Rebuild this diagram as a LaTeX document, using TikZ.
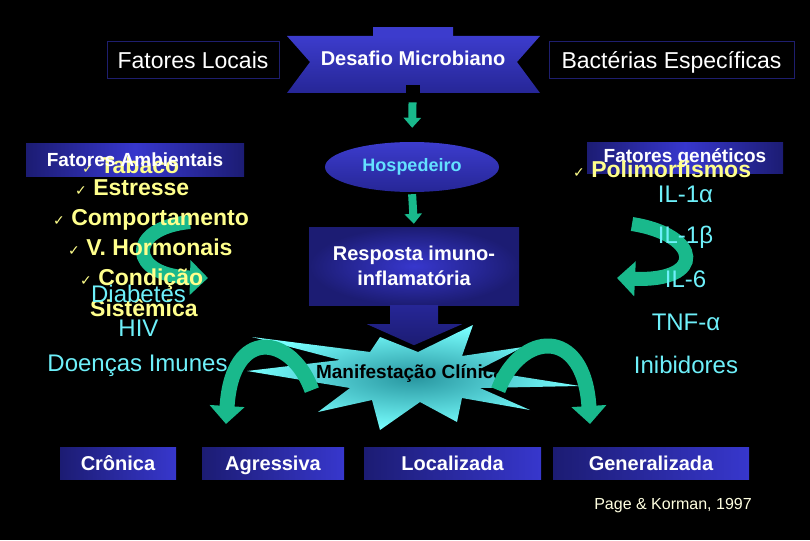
\documentclass[tikz,border=0pt]{standalone}
\usepackage{fontspec}
\setmainfont{Liberation Sans}
\newfontfamily\dejavu{DejaVu Sans}
\usepackage{tikz}
\usetikzlibrary{arrows.meta,positioning,calc,shapes.geometric}
\pgfdeclarelayer{bg}
\pgfsetlayers{bg,main}
\definecolor{navy}{RGB}{30,30,110}
\definecolor{boxlight}{RGB}{55,55,205}
\definecolor{boxdark}{RGB}{28,28,115}
\definecolor{ribbontop}{RGB}{60,60,205}
\definecolor{ribbonbot}{RGB}{38,38,150}
\definecolor{swirlgreen}{RGB}{25,185,140}
\definecolor{lemon}{RGB}{255,255,140}
\definecolor{aqua}{RGB}{110,240,250}
\definecolor{hosptext}{RGB}{100,225,255}
\definecolor{stardark}{RGB}{40,150,160}
\definecolor{starlight}{RGB}{120,255,255}
\definecolor{cream}{RGB}{255,255,225}
\newcommand{\chk}{{\dejavu\fontsize{14}{14}\selectfont ✓}}

\begin{document}
\begin{tikzpicture}[x=1pt, y=-1pt,
    title/.style={draw=navy, line width=1pt, fill=black, text=white, font=\fontsize{23}{27}\selectfont, minimum height=37pt, inner sep=0pt, text depth=0pt},
    banner/.style={left color=boxdark, right color=boxdark, middle color=boxlight, minimum height=32pt, inner sep=0pt},
    bannertext/.style={text=white, font=\bfseries\fontsize{19}{23}\selectfont, inner sep=0pt},
    outcome/.style={left color=boxdark, right color=boxlight, text=white, font=\bfseries\fontsize{20}{24}\selectfont, minimum height=32pt, inner sep=0pt, text height=14.5pt, text depth=0pt},
    item/.style={text=lemon, font=\bfseries\fontsize{23}{27}\selectfont, anchor=base west, inner sep=0pt},
    cytokine/.style={text=aqua, font=\fontsize{24}{28}\selectfont, anchor=base, inner sep=0pt},
    flow/.style={swirlgreen, line width=8pt, -{Triangle[width=17pt,length=10pt]}},
    swirl/.style={swirlgreen, line width=15pt, -{Triangle[width=34pt,length=18pt]}}]

    \begin{pgfonlayer}{bg}    % black slide and the swirls behind the lists
        \fill[black] (0,0) rectangle (810,540);
        \draw[swirl, line width=14pt] (190,222) .. controls (126,228) and (128,276) .. (208,278);
        \draw[swirl, line width=14pt] (632,224) .. controls (702,235) and (706,282) .. (617,278);
    \end{pgfonlayer}
    \useasboundingbox (0,0) rectangle (810,540);

    % top row
    \node [title, minimum width=172pt] (locais) at (193,60.5) { Fatores Locais };
    \node [title, minimum width=245pt] (bacterias) at (671.5,60.5) { Bactérias Específicas };
    \shade[top color=ribbontop, bottom color=ribbontop] (373,28) rectangle (453,37);
    \shade[top color=ribbontop, bottom color=ribbonbot] (287,36) -- (540,36) -- (517,62) -- (540,93) -- (287,93) -- (310,62) -- cycle;
    \fill[black] (406,85) rectangle (420,94);
    \node [text=white, font=\bfseries\fontsize{20}{24}\selectfont, inner sep=0pt, text height=14.5pt, text depth=0pt] (desafio) at (413,58) { Desafio Microbiano };

    % centre column
    \node [ellipse, minimum width=174pt, minimum height=50pt, inner sep=0pt, top color=ribbontop, bottom color=ribbonbot, text=hosptext, font=\bfseries\fontsize{18}{22}\selectfont] (hosp) at (412,167) { Hospedeiro };
    \node [minimum width=210pt, minimum height=78pt, inner color=boxlight, outer color=boxdark, text=white, align=center, font=\bfseries\fontsize{20}{25}\selectfont] (resp) at (414,266) { Resposta imuno-\\inflamatória };
    \draw[flow, shorten <=37pt, shorten >=14pt] (desafio.south) -- (hosp.north);
    \draw[flow, shorten <=2pt, shorten >=3pt] (hosp.south) -- (resp.north);
    \shade[top color=ribbonbot, bottom color=boxdark] (resp.south) ++(-24,0) -- ++(0,19) -- ++(-23,0) -- ++(47,21) -- ++(48,-21) -- ++(-24,0) -- ++(0,-19) -- cycle;

    % star
    \shade[inner color=stardark, outer color=starlight] (380,337) -- (418,352) -- (473,325) -- (462,356) -- (523,347) -- (478,370) -- (580,386) -- (480,388) -- (530,410) -- (462,398) -- (457,422) -- (420,402) -- (380,430) -- (372,400) -- (318,412) -- (350,388) -- (247,371) -- (340,360) -- (252,337) -- (370,352) -- cycle;
    \node [text=black, font=\bfseries\fontsize{19}{23}\selectfont, inner sep=0pt] (manif) at (410,373) { Manifestação Clínica };
    \coordinate (ltip) at (226,424);
    \coordinate (rtip) at (590,424);
    \draw[swirl] ([xshift=-4pt,yshift=-8pt]manif.south west) .. controls (292,335) and (232,325) .. (ltip);
    \draw[swirl] ([xshift=-6pt,yshift=-8pt]manif.south east) .. controls (520,332) and (584,325) .. (rtip);

    % left list
    \node [banner, minimum width=218pt] (ambbox) at (135,160) {};
    \node [item] (tabaco) at (82,173) { \chk\ Tabaco };
    \node [bannertext] (ambient) at (ambbox) { Fatores Ambientais };
    \node [item] (estresse) at (75,195) { \chk\ Estresse };
    \node [item] (comport) at (53,225) { \chk\ Comportamento };
    \node [item] (hormon) at (68,255) { \chk\ V. Hormonais };
    \node [item] (condicao) at (80,285) { \chk\ Condição };
    \node [item] (sistem) at (90,316) { Sistêmica };
    \node [cytokine] (diabetes) at (138.5,302) { Diabetes };
    \node [cytokine] (hiv) at (138.5,336) { HIV };
    \node [cytokine] (imunes) at (137.5,371) { Doenças Imunes };

    % right list
    \node [banner, minimum width=196pt, minimum height=31pt] (genetic) at (685,158) {};
    \node [bannertext] (genetext) at (genetic) { Fatores genéticos };
    \node [item] (polim) at (573,177) { \chk\ Polimorfismos };
    \node [cytokine] (ila) at (685.5,202) { IL-1α };
    \node [cytokine] (ilb) at (685.5,243) { IL-1β };
    \node [cytokine] (il6) at (685.5,287) { IL-6 };
    \node [cytokine] (tnf) at (686,330) { TNF-α };
    \node [cytokine] (inib) at (686,373) { Inibidores };

    % bottom row
    \node [outcome, minimum width=116pt] (cronica) at (118,463) { Crônica };
    \node [outcome, minimum width=142pt] (agress) at (273,463) { Agressiva };
    \node [outcome, minimum width=177pt] (local) at (452.5,463) { Localizada };
    \node [outcome, minimum width=196pt] (general) at (651,463) { Generalizada };
    \node [text=cream, font=\fontsize{16}{19}\selectfont, anchor=base, inner sep=0pt] (source) at (673,509) { Page \& Korman, 1997 };
\end{tikzpicture}
\end{document}
